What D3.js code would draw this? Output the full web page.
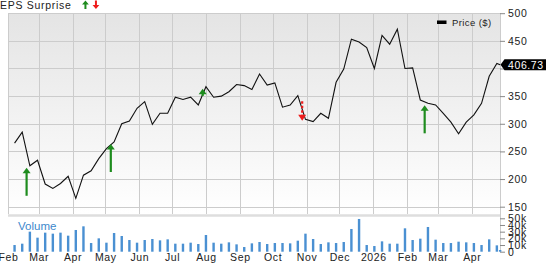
<!DOCTYPE html>
<html>
<head>
<meta charset="utf-8">
<script src="https://cdn.jsdelivr.net/npm/d3@7"></script>
<style>
  html, body { margin: 0; padding: 0; background: #fff; }
  svg { display: block; }
  text { font-family: "Liberation Sans", Arial, sans-serif; fill: #222; }
</style>
</head>
<body>
<div id="chart"></div>
<script>
/*------------------------------------------*/
/*            Data                          */
/*------------------------------------------*/

var weekDates = [
  "2025-02-07", "2025-02-14", "2025-02-21", "2025-02-28",
  "2025-03-07", "2025-03-14", "2025-03-21", "2025-03-28",
  "2025-04-04", "2025-04-11", "2025-04-18", "2025-04-25",
  "2025-05-02", "2025-05-09", "2025-05-16", "2025-05-23", "2025-05-30",
  "2025-06-06", "2025-06-13", "2025-06-20", "2025-06-27",
  "2025-07-04", "2025-07-11", "2025-07-18", "2025-07-25",
  "2025-08-01", "2025-08-08", "2025-08-15", "2025-08-22", "2025-08-29",
  "2025-09-05", "2025-09-12", "2025-09-19", "2025-09-26",
  "2025-10-03", "2025-10-10", "2025-10-17", "2025-10-24", "2025-10-31",
  "2025-11-07", "2025-11-14", "2025-11-21", "2025-11-28",
  "2025-12-05", "2025-12-12", "2025-12-19", "2025-12-26",
  "2026-01-02", "2026-01-09", "2026-01-16", "2026-01-23", "2026-01-30",
  "2026-02-06", "2026-02-13", "2026-02-20", "2026-02-27",
  "2026-03-06", "2026-03-13", "2026-03-20", "2026-03-27",
  "2026-04-03", "2026-04-10", "2026-04-17", "2026-04-24", "2026-04-27"
];

// weekly close, $
var prices = [
  265, 285, 224, 234, 191, 183, 192, 205, 165, 207, 215, 237,
  255, 267, 300, 305, 328, 340, 299, 319, 319, 348, 344, 348,
  334, 367, 348, 350, 358, 371, 369, 362, 390, 370, 374, 330,
  334, 351, 308, 304, 319, 310, 375, 399, 453, 448, 438, 400,
  460, 444, 471, 400, 401, 343, 337, 334, 319, 303, 282, 303,
  316, 337, 386, 409, 406.73
];

// weekly volume, thousands
var volumes = [
  10, 12, 30, 21, 28.5, 27, 28.5, 24, 32.5, 38, 13, 20,
  13.5, 28, 23.5, 17.5, 13.5, 17.5, 19, 17, 18.5, 12, 12, 13.5,
  11.5, 25, 13.5, 12, 14, 11, 7, 12.5, 14.5, 11.5, 13, 13,
  12.5, 16.5, 27, 19, 11.5, 14, 13, 14.5, 34, 49, 10, 8.5,
  15.5, 12, 12, 35, 17.5, 19.5, 37, 18, 13, 13, 15, 14,
  13, 10, 18.5, 9.5, 2.5
];

var monthDates = [
  "2025-02-01", "2025-03-01", "2025-04-01", "2025-05-01", "2025-06-01",
  "2025-07-01", "2025-08-01", "2025-09-01", "2025-10-01", "2025-11-01",
  "2025-12-01", "2026-01-01", "2026-02-01", "2026-03-01", "2026-04-01"
];
var monthLabels = ["Feb", "Mar", "Apr", "May", "Jun", "Jul", "Aug", "Sep",
                   "Oct", "Nov", "Dec", "2026", "Feb", "Mar", "Apr"];

var priceTicks = [150, 200, 250, 300, 350, 400, 450, 500];
var volumeTicks = [0, 10, 20, 30, 40, 50];
var volumeTickLabels = ["0", "10k", "20k", "30k", "40k", "50k"];

// earnings reports: date, beat/miss, size of surprise
var epsDates = ["2025-02-18", "2025-05-06", "2025-07-29", "2025-10-28", "2026-02-17"];
var epsTypes = ["beat", "beat", "beat", "miss", "beat"];
var epsSurprise = [10, 10, 2.6, -7, 10];

var lastPrice = "406.73";

/*------------------------------------------*/
/*            Setup                         */
/*------------------------------------------*/

var W = 546, H = 264;
var plotLeft = 8, plotRight = 500,
    priceTop = 13, priceBottom = 214,
    volTop = 217, volBottom = 252;

var parse = d3.utcParse("%Y-%m-%d");

var table = weekDates.map(function(d, i) {
  return { date: parse(d), price: prices[i], volume: volumes[i] };
});

var x = d3.scaleUtc()
    .domain([parse("2025-02-01"), parse("2026-04-01")])
    .range([plotLeft, 471.7]);
var y = d3.scaleLinear().domain([150, 500]).range([206.7, 13.2]);
var yv = d3.scaleLinear().domain([0, 50]).range([251.7, 218.3]);
var arrowLen = d3.scaleLinear().domain([0, 10]).range([0, 28]);

var svg = d3.select("#chart").append("svg")
    .attr("width", W).attr("height", H);

var defs = svg.append("defs");
var grad = defs.append("linearGradient")
    .attr("id", "bg").attr("x1", 0).attr("y1", 0).attr("x2", 0).attr("y2", 1);
grad.append("stop").attr("offset", "0%").attr("stop-color", "#e4e4e4");
grad.append("stop").attr("offset", "100%").attr("stop-color", "#ffffff");

svg.append("rect")
    .attr("x", plotLeft).attr("y", priceTop)
    .attr("width", plotRight - plotLeft).attr("height", priceBottom - priceTop)
    .style("fill", "url(#bg)");

/*------------------------------------------*/
/*            Grid                          */
/*------------------------------------------*/

svg.append("g").selectAll("line")
  .data(priceTicks)
  .enter().append("line")
    .attr("x1", plotLeft).attr("x2", plotRight)
    .attr("y1", function(d) { return Math.round(y(d)) + 0.5; })
    .attr("y2", function(d) { return Math.round(y(d)) + 0.5; })
    .style("stroke", "#cccccc").style("stroke-width", 1);

svg.append("g").selectAll("line")
  .data(monthDates)
  .enter().append("line")
    .attr("x1", function(d) { return Math.round(x(parse(d))) + 0.5; })
    .attr("x2", function(d) { return Math.round(x(parse(d))) + 0.5; })
    .attr("y1", priceTop).attr("y2", priceBottom)
    .style("stroke", "#cccccc").style("stroke-width", 1);

// right border
svg.append("line")
    .attr("x1", plotRight + 0.5).attr("x2", plotRight + 0.5)
    .attr("y1", priceTop).attr("y2", volBottom)
    .style("stroke", "#cccccc");

// panel divider
svg.append("line")
    .attr("x1", plotLeft).attr("x2", plotRight)
    .attr("y1", 215.5).attr("y2", 215.5)
    .style("stroke", "#dedede").style("stroke-width", 2.5);

/*------------------------------------------*/
/*            Axes                          */
/*------------------------------------------*/

var ly = y(prices[prices.length - 1]);

var yAxis = svg.append("g")
    .attr("transform", "translate(" + plotRight + ",0)")
    .call(d3.axisRight(y).tickValues(priceTicks).tickSize(5).tickSizeOuter(0).tickPadding(3));

// tick labels hidden under the last-price flag are not drawn
yAxis.selectAll(".tick text")
    .filter(function(d) { return Math.abs(y(d) - ly) < 10; })
    .remove();

var vAxis = svg.append("g")
    .attr("transform", "translate(" + plotRight + ",0)")
    .call(d3.axisRight(yv).tickValues(volumeTicks).tickSize(5).tickSizeOuter(0).tickPadding(3)
      .tickFormat(function(d, i) { return volumeTickLabels[i]; }));

var xAxis = svg.append("g")
    .attr("transform", "translate(0," + volBottom + ")")
    .call(d3.axisBottom(x).tickValues(monthDates.map(parse)).tickSize(0).tickPadding(2)
      .tickFormat(function(d, i) { return monthLabels[i]; }));

[yAxis, vAxis, xAxis].forEach(function(a) {
  a.select(".domain").remove();
  a.selectAll(".tick line").style("stroke", "#888");
  a.selectAll("text")
    .style("font-family", "'Liberation Sans', Arial, sans-serif")
    .style("font-size", "10.5px")
    .style("letter-spacing", "0.6px")
    .style("fill", "#222");
});

/*------------------------------------------*/
/*            Volume                        */
/*------------------------------------------*/

svg.append("g").selectAll("rect")
  .data(table)
  .enter().append("rect")
    .attr("x", function(d) { return x(d.date) - 1.2; })
    .attr("width", 2.4)
    .attr("y", function(d) { return yv(d.volume); })
    .attr("height", function(d) { return yv(0) - yv(d.volume); })
    .style("fill", "#4a90d2");

svg.append("text")
    .attr("x", 18).attr("y", 230)
    .style("font-size", "11.5px")
    .style("fill", "#3d88cc")
    .text("Volume");

/*------------------------------------------*/
/*            Price line                    */
/*------------------------------------------*/

var line = d3.line()
    .x(function(d) { return x(d.date); })
    .y(function(d) { return y(d.price); });

svg.append("path")
    .datum(table)
    .attr("d", line)
    .style("fill", "none")
    .style("stroke", "#111")
    .style("stroke-width", 1.1);

/*------------------------------------------*/
/*            EPS arrows                    */
/*------------------------------------------*/

// arrows point at the first weekly close after the report
var bisect = d3.bisector(function(d) { return d.date; }).left;
function closeAfter(date) {
  var i = Math.min(bisect(table, date), table.length - 1);
  return table[i].price;
}

var arrows = svg.append("g");
epsDates.forEach(function(ds, i) {
  var dt = parse(ds),
      ax = x(dt),
      py = y(closeAfter(dt)),
      len = arrowLen(Math.abs(epsSurprise[i]));
  if (epsTypes[i] === "beat") {
    var tip = py + 2, tail = tip + len;
    arrows.append("line")
      .attr("x1", ax).attr("x2", ax)
      .attr("y1", tip + 4).attr("y2", tail)
      .style("stroke", "#1e8c1e").style("stroke-width", 2.2);
    arrows.append("path")
      .attr("d", "M" + ax + "," + tip + "L" + (ax + 4) + "," + (tip + 5.5) + "L" + (ax - 4) + "," + (tip + 5.5) + "Z")
      .style("fill", "#1e8c1e");
  } else {
    var tipD = py + 1.5, tailD = tipD - len;
    arrows.append("line")
      .attr("x1", ax).attr("x2", ax)
      .attr("y1", tailD).attr("y2", tipD - 5)
      .style("stroke", "#ee1c1c").style("stroke-width", 2.2)
      .style("stroke-dasharray", "2.5,2");
    arrows.append("path")
      .attr("d", "M" + ax + "," + tipD + "L" + (ax + 4) + "," + (tipD - 6) + "L" + (ax - 4) + "," + (tipD - 6) + "Z")
      .style("fill", "#ee1c1c");
  }
});

/*------------------------------------------*/
/*            Labels / legend               */
/*------------------------------------------*/

var title = svg.append("text")
    .attr("x", 0).attr("y", 9)
    .style("font-size", "10.5px")
    .style("letter-spacing", "0.7px")
    .text("EPS Surprise");

var tw = title.node().getComputedTextLength();
var gx = tw + 14, rx = tw + 24.5;
svg.append("path")
    .attr("d", "M" + gx + ",0.5L" + (gx + 3.4) + ",4.5L" + (gx + 1) + ",4.5L" + (gx + 1) + ",9L" + (gx - 1) + ",9L" + (gx - 1) + ",4.5L" + (gx - 3.4) + ",4.5Z")
    .style("fill", "#1e8c1e");
svg.append("path")
    .attr("d", "M" + rx + ",9L" + (rx + 3.4) + ",5L" + (rx + 1) + ",5L" + (rx + 1) + ",0.5L" + (rx - 1) + ",0.5L" + (rx - 1) + ",5L" + (rx - 3.4) + ",5Z")
    .style("fill", "#ee1c1c");

svg.append("rect")
    .attr("x", 437).attr("y", 20.5).attr("width", 9.5).attr("height", 3.5)
    .style("fill", "#000");
svg.append("text")
    .attr("x", 452).attr("y", 25.5)
    .style("font-size", "9.5px")
    .style("letter-spacing", "0.4px")
    .text("Price ($)");

// last price flag
svg.append("path")
    .attr("d", "M" + (plotRight + 0.5) + "," + ly + "L" + (plotRight + 4.5) + "," + (ly - 5.5) +
      "L" + W + "," + (ly - 5.5) + "L" + W + "," + (ly + 5.5) + "L" + (plotRight + 4.5) + "," + (ly + 5.5) + "Z")
    .style("fill", "#000");
svg.append("text")
    .attr("x", 508).attr("y", ly + 3.8)
    .style("font-size", "10.5px")
    .style("letter-spacing", "0.6px")
    .style("fill", "#fff")
    .text(lastPrice);
</script>
</body>
</html>
